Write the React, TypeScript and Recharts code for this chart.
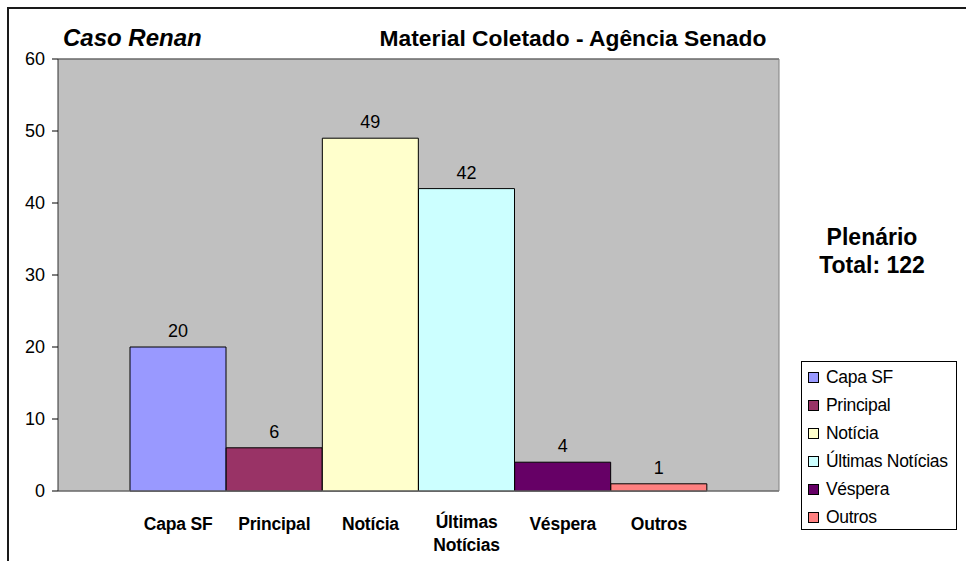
import React from 'react';
import { BarChart, Bar, XAxis, YAxis, CartesianGrid, Cell, LabelList, Legend, ReferenceLine } from 'recharts';

const categories = ['Capa SF', 'Principal', 'Notícia', 'Últimas Notícias', 'Véspera', 'Outros'];
const values = [20, 6, 49, 42, 4, 1];
const colors = ['#9999FF', '#993366', '#FFFFCC', '#CCFFFF', '#660066', '#FF8080'];
const yTicks = [0, 10, 20, 30, 40, 50, 60];

const data = categories.map((name, i) => ({ name, value: values[i] }));

const font = '"Liberation Sans", Arial, sans-serif';

function XTick({ x, y, payload }: any) {
  const label: string = payload.value;
  const lines = label.length > 10 ? label.split(' ') : [label];
  return (
    <text x={x} y={y} textAnchor="middle" fontFamily={font} fontSize={17.5} fontWeight="bold" letterSpacing={-0.2} fill="#000">
      {lines.map((l, i) => (
        <tspan key={i} x={x} dy={i === 0 ? 39 - (lines.length - 1) * 2 : 23}>{l}</tspan>
      ))}
    </text>
  );
}

function LegendBox() {
  return (
    <div style={{ width: 154, height: 166, border: '1px solid #000', background: '#fff', paddingTop: 1, fontFamily: font, fontSize: 17.5, color: '#000' }}>
      {categories.map((c, i) => (
        <div key={c} style={{ height: 28, display: 'flex', alignItems: 'center', whiteSpace: 'nowrap', letterSpacing: -0.3 }}>
          <span style={{ display: 'inline-block', width: 9, height: 9, border: '1px solid #000', background: colors[i], marginLeft: 6, marginRight: 7 }} />
          {c}
        </div>
      ))}
    </div>
  );
}

export default function App() {
  return (
    <div style={{ position: 'fixed', left: 0, top: 0, width: 966, height: 561, overflow: 'hidden', background: '#fff' }}>
      <div style={{ position: 'absolute', left: 7, top: 7, width: 966, height: 561, borderTop: '2px solid #1a1a1a', borderLeft: '2px solid #1a1a1a' }} />
      <div style={{ position: 'absolute', left: 0, top: 0 }}>
        <BarChart width={966} height={561} data={data} margin={{ top: 59, right: 186, bottom: 10, left: 18 }} barCategoryGap={0}>
          <CartesianGrid vertical={false} stroke="#383838" fill="#C0C0C0" fillOpacity={1} />
          <XAxis
            dataKey="name"
            height={60}
            padding={{ left: 72, right: 72 }}
            axisLine={{ stroke: '#808080' }}
            tickLine={false}
            tickSize={0}
            tickMargin={0}
            interval={0}
            tick={<XTick />}
          />
          <YAxis
            yAxisId="left"
            width={40}
            domain={[0, 60]}
            ticks={yTicks}
            axisLine={{ stroke: '#303030' }}
            tickLine={{ stroke: '#000' }}
            tickSize={6}
            tickMargin={7}
            tick={{ fill: '#000', fontSize: 18, fontFamily: font }}
          />
          <YAxis yAxisId="right" orientation="right" width={1} domain={[0, 60]} tick={false} tickLine={false} axisLine={{ stroke: '#808080' }} />
          <ReferenceLine yAxisId="left" y={60} stroke="#808080" />
          <Legend layout="horizontal" verticalAlign="middle" align="center" content={<LegendBox />} wrapperStyle={{ left: 801, top: 361, width: 156, height: 168 }} />
          <Bar yAxisId="left" dataKey="value" stroke="#000" strokeWidth={1} isAnimationActive={false}>
            {data.map((d, i) => (
              <Cell key={d.name} fill={colors[i]} />
            ))}
            <LabelList dataKey="value" position="top" offset={10} fill="#000" fontSize={18} fontFamily={font} />
          </Bar>
        </BarChart>
      </div>
      <svg width={966} height={561} style={{ position: 'absolute', left: 0, top: 0, pointerEvents: 'none' }}>
        <text x={63} y={46} fontFamily={font} fontSize={24} fontWeight="bold" fontStyle="italic" fill="#000">Caso Renan</text>
        <text x={573} y={46} textAnchor="middle" fontFamily={font} fontSize={22.8} fontWeight="bold" fill="#000">Material Coletado - Agência Senado</text>
        <text x={872} y={245} textAnchor="middle" fontFamily={font} fontSize={23} fontWeight="bold" fill="#000">Plenário</text>
        <text x={872} y={273} textAnchor="middle" fontFamily={font} fontSize={23} fontWeight="bold" fill="#000">Total: 122</text>
      </svg>
    </div>
  );
}
